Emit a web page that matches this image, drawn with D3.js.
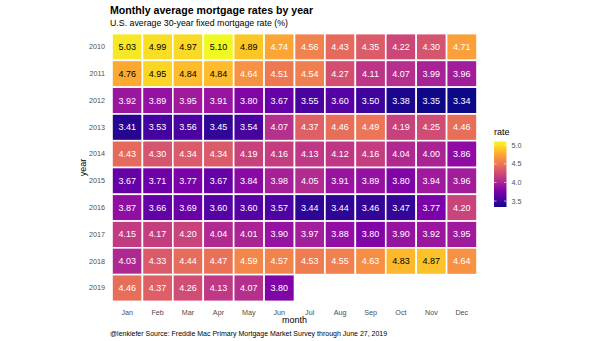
<!DOCTYPE html>
<html><head><meta charset="utf-8">
<script src="https://cdn.jsdelivr.net/npm/d3@7"></script>
<style>body{margin:0;background:#fff;} text{font-family:"Liberation Sans",Arial,sans-serif;}</style>
</head><body><svg id="c" width="605" height="341"></svg>
<script>
const months = ["Jan","Feb","Mar","Apr","May","Jun","Jul","Aug","Sep","Oct","Nov","Dec"];
const years = ["2010","2011","2012","2013","2014","2015","2016","2017","2018","2019"];
const r2010 = [5.03,4.99,4.97,5.10,4.89,4.74,4.56,4.43,4.35,4.22,4.30,4.71];
const r2011 = [4.76,4.95,4.84,4.84,4.64,4.51,4.54,4.27,4.11,4.07,3.99,3.96];
const r2012 = [3.92,3.89,3.95,3.91,3.80,3.67,3.55,3.60,3.50,3.38,3.35,3.34];
const r2013 = [3.41,3.53,3.56,3.45,3.54,4.07,4.37,4.46,4.49,4.19,4.25,4.46];
const r2014 = [4.43,4.30,4.34,4.34,4.19,4.16,4.13,4.12,4.16,4.04,4.00,3.86];
const r2015 = [3.67,3.71,3.77,3.67,3.84,3.98,4.05,3.91,3.89,3.80,3.94,3.96];
const r2016 = [3.87,3.66,3.69,3.60,3.60,3.57,3.44,3.44,3.46,3.47,3.77,4.20];
const r2017 = [4.15,4.17,4.20,4.04,4.01,3.90,3.97,3.88,3.80,3.90,3.92,3.95];
const r2018 = [4.03,4.33,4.44,4.47,4.59,4.57,4.53,4.55,4.63,4.83,4.87,4.64];
const r2019 = [4.46,4.37,4.26,4.13,4.07,3.80];
const rows = [r2010,r2011,r2012,r2013,r2014,r2015,r2016,r2017,r2018,r2019];
const legendTicks = [3.5,4.0,4.5,5.0];

(function(){
const data = [];
rows.forEach((r,i)=>r.forEach((v,j)=>data.push({year:years[i],month:months[j],rate:v})));

const svg = d3.select("#c");
const pL=112, pR=477, pT=33.6, pB=301.4;
const x = d3.scaleBand().domain(months).range([pL,pR]);
const y = d3.scaleBand().domain(years).range([pT,pB]);
const ext = d3.extent(data,d=>d.rate);
const color = d3.scaleSequential(d3.interpolatePlasma).domain(ext);

const g = svg.append("g");
g.selectAll("rect").data(data).join("rect")
  .attr("x",d=>x(d.month)).attr("y",d=>y(d.year))
  .attr("width",x.bandwidth()).attr("height",y.bandwidth())
  .attr("fill",d=>color(d.rate)).attr("stroke","#fff").attr("stroke-width",1.6);
g.selectAll("text.v").data(data).join("text").attr("class","v")
  .attr("x",d=>x(d.month)+x.bandwidth()/2).attr("y",d=>y(d.year)+y.bandwidth()/2)
  .attr("text-anchor","middle").attr("dominant-baseline","central")
  .attr("font-size",9).attr("fill",d=>d.rate>4.75?"#000":"#fff")
  .text(d=>d.rate.toFixed(2));

const xa = svg.append("g").attr("transform",`translate(0,${pB})`)
  .call(d3.axisBottom(x).tickSize(0).tickPadding(8));
xa.select(".domain").remove();
xa.selectAll("text").attr("font-size",7.2).attr("fill","#4d4d4d").attr("font-family","Liberation Sans");
const ya = svg.append("g").attr("transform",`translate(${pL},0)`)
  .call(d3.axisLeft(y).tickSize(0).tickPadding(7));
ya.select(".domain").remove();
ya.selectAll("text").attr("font-size",7.2).attr("fill","#4d4d4d").attr("font-family","Liberation Sans");

svg.append("text").attr("x",(pL+pR)/2).attr("y",323).attr("text-anchor","middle")
  .attr("font-size",9).attr("fill","#000").text("month");
svg.append("text").attr("transform",`translate(86,${(pT+pB)/2}) rotate(-90)`).attr("text-anchor","middle")
  .attr("font-size",9).attr("fill","#000").text("year");

svg.append("text").attr("x",110).attr("y",13.5).attr("font-size",10.6).attr("font-weight","bold")
  .attr("fill","#000").text("Monthly average mortgage rates by year");
svg.append("text").attr("x",110).attr("y",26.3).attr("font-size",8.8)
  .attr("fill","#000").text("U.S. average 30-year fixed mortgage rate (%)");
svg.append("text").attr("x",110).attr("y",336).attr("font-size",7.0)
  .attr("fill","#000").text("@lenkiefer Source: Freddie Mac Primary Mortgage Market Survey through June 27, 2019");

const lx=494, lw=12.5;
const ly = d3.scaleLinear().domain(ext).range([207,141.5]);
const defs = svg.append("defs");
const grad = defs.append("linearGradient").attr("id","lg").attr("x1",0).attr("x2",0).attr("y1",1).attr("y2",0);
d3.range(0,1.0001,0.05).forEach(t=>grad.append("stop").attr("offset",t)
  .attr("stop-color",color(ext[0]+t*(ext[1]-ext[0]))));
svg.append("rect").attr("x",lx).attr("y",ly(ext[1])).attr("width",lw)
  .attr("height",ly(ext[0])-ly(ext[1])).attr("fill","url(#lg)");
legendTicks.forEach(t=>{
  svg.append("line").attr("x1",lx).attr("x2",lx+2.5).attr("y1",ly(t)).attr("y2",ly(t)).attr("stroke","#fff").attr("stroke-width",0.6);
  svg.append("line").attr("x1",lx+lw-2.5).attr("x2",lx+lw).attr("y1",ly(t)).attr("y2",ly(t)).attr("stroke","#fff").attr("stroke-width",0.6);
  svg.append("text").attr("x",lx+lw+5).attr("y",ly(t)).attr("dominant-baseline","central")
    .attr("font-size",7.2).attr("fill","#4d4d4d").text(t.toFixed(1));
});
svg.append("text").attr("x",lx).attr("y",135).attr("font-size",9).attr("fill","#000").text("rate");
})();
</script></body></html>
